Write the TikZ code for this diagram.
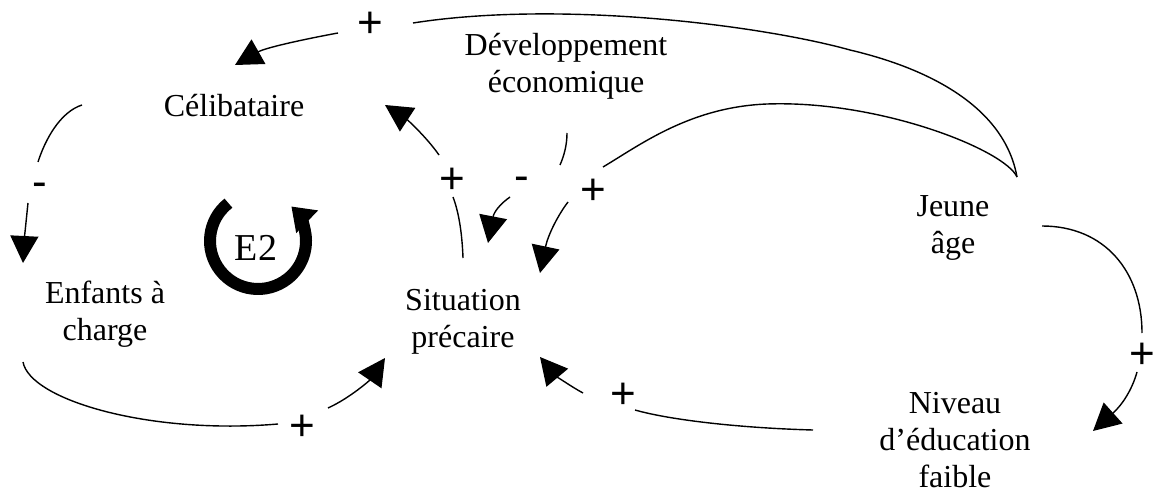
\documentclass[tikz,border=0pt]{standalone}
\usepackage{fontspec}
\setmainfont{Liberation Serif}
\newfontfamily\signfont{Liberation Sans}
\usetikzlibrary{arrows.meta,calc}
\tikzset{
  concept/.style={align=center, font=\fontsize{32}{37}\selectfont, inner sep=0pt},
  sign/.style={font=\signfont\fontsize{44}{44}\selectfont, inner sep=0pt, text height=31pt, text depth=0pt},
  link/.style={line width=1.4pt},
  arr/.style={-{Triangle[length=27pt,width=28pt]}},
  ring/.style={line width=12pt, -{Triangle[length=22pt,width=30pt]}},
}
\begin{document}
\begin{tikzpicture}[x=1pt,y=-1pt]
\useasboundingbox (0,0) rectangle (1161,494);
\fill[white] (0,0) rectangle (1161,494);

% concepts
\node[concept] (celib) at (234,106) {Célibataire};
\node[concept] (dev) at (566,66) {Développement\\économique};
\node[concept] (enf) at (105,314) {Enfants à\\charge};
\node[concept] (sit) at (463,322) {Situation\\précaire};
\node[concept] (jeune) at (953,228) {Jeune\\âge};
\node[concept] (niv) at (955,440) {Niveau\\d’éducation\\faible};

% signs
\node[sign] (p1) at (370,22) {+};
\node[sign] (m2) at (40,181) {-};
\node[sign] (p3) at (302,425) {+};
\node[sign] (p4) at (452,178) {+};
\node[sign] (m5) at (522,175) {-};
\node[sign] (p6) at (593,189) {+};
\node[sign] (p7) at (1142,353) {+};
\node[sign] (p8) at (623,393) {+};

% loop marker
\coordinate (e2c) at (258,241);
\draw[ring] ($(e2c)+(128:48pt)$) arc[start angle=128, end angle=406, radius=48pt];
\node[font=\fontsize{38}{38}\selectfont, inner sep=0pt] (e2) at (256,248) {E2};

% L1 Jeune -> Celibataire
\draw[link] ($(jeune)+(64,-51)$) .. controls (1005,110) and (935,70) .. (850,50)
   .. controls (760,25) and (560,0) .. ($(p1)+(43,1)$);
\draw[link,arr] ($(p1)+(-32,11)$) .. controls (300,40) and (265,48) .. ($(celib)+(1,-41)$);

% L2 Celibataire -> Enfants
\draw[link] ($(celib)+(-152,-1)$) .. controls (60,112) and (45,140) .. ($(m2)+(-2,-19)$);
\draw[link,arr] ($(m2)+(-12,22)$) .. controls (26,222) and (24,243) .. ($(enf)+(-82,-51)$);

% L3 Enfants -> Situation
\draw[link] ($(enf)+(-82,48)$) .. controls (30,400) and (150,435) .. ($(p3)+(-24,-1)$);
\draw[link,arr] ($(p3)+(26,-17)$) .. controls (350,398) and (370,380) .. ($(sit)+(-78,36)$);

% L4 Situation -> Celibataire
\draw[link] ($(sit)+(0,-64)$) .. controls (462,230) and (458,210) .. ($(p4)+(1,19)$);
\draw[link,arr] ($(p4)+(-13,-23)$) .. controls (425,135) and (405,118) .. ($(celib)+(151,-1)$);

% L5 Developpement -> Situation
\draw[link] ($(dev)+(1,67)$) .. controls (567,145) and (564,156) .. ($(m5)+(38,-10)$);
\draw[link,arr] ($(m5)+(-12,22)$) .. controls (500,204) and (494,212) .. ($(sit)+(25,-79)$);

% L6 Jeune -> Situation
\draw[link] ($(jeune)+(64,-51)$) .. controls (1005,150) and (880,100) .. (767,104)
   .. controls (690,107) and (640,145) .. ($(p6)+(10,-22)$);
\draw[link,arr] ($(p6)+(-25,13)$) .. controls (558,215) and (548,235) .. ($(sit)+(77,-49)$);

% L7 Jeune -> Niveau
\draw[link] ($(jeune)+(89,-2)$) .. controls (1105,226) and (1142,272) .. ($(p7)+(0,-20)$);
\draw[link,arr] ($(p7)+(-5,19)$) .. controls (1132,390) and (1122,405) .. ($(niv)+(138,-9)$);

% L8 Niveau -> Situation
\draw[link] ($(niv)+(-142,-10)$) .. controls (740,428) and (670,420) .. ($(p8)+(12,17)$);
\draw[link,arr] ($(p8)+(-40,0)$) .. controls (570,386) and (555,375) .. ($(sit)+(77,35)$);
\end{tikzpicture}
\end{document}
